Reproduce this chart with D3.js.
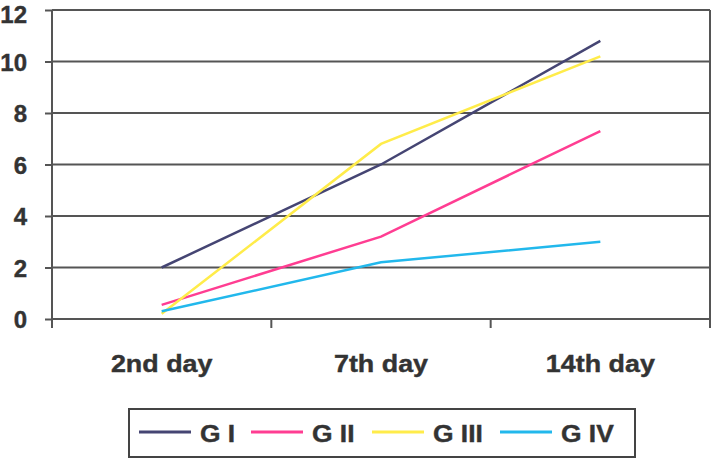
<!DOCTYPE html>
<html>
<head>
<meta charset="utf-8">
<script src="https://cdn.jsdelivr.net/npm/d3@7"></script>
<style>
  body { margin: 0; background: #fff; }
  text { font-family: "Liberation Sans", Arial, sans-serif; font-weight: bold; fill: #333; stroke: #333; stroke-width: 0.4px; }
</style>
</head>
<body>
<div id="chart"></div>
<script>
// chart data
var days = ["2nd day", "7th day", "14th day"];
var groups = ["G I", "G II", "G III", "G IV"];
var gI = [2.0, 6.0, 10.8];
var gII = [0.55, 3.2, 7.3];
var gIII = [0.2, 6.8, 10.2];
var gIV = [0.3, 2.2, 3.0];
var yTicks = [0, 2, 4, 6, 8, 10, 12];
var colors = ["#454573", "#ff3d92", "#ffec4a", "#22b8ec"];

var series = [gI, gII, gIII, gIV];

var svgWidth = 717;
var svgHeight = 459;
var margin = { top: 10, right: 7, bottom: 140, left: 52 };
var chartWidth = svgWidth - margin.left - margin.right;
var chartHeight = svgHeight - margin.top - margin.bottom;

var svg = d3.select("#chart")
  .append("svg")
  .attr("width", svgWidth)
  .attr("height", svgHeight);

var chart = svg.append("g")
  .attr("transform", "translate(" + margin.left + "," + margin.top + ")");

var x = d3.scaleBand()
  .range([0, chartWidth])
  .domain(days);

var y = d3.scaleLinear()
  .range([chartHeight, 0])
  .domain([0, 12]);

// gridlines
chart.selectAll(".grid")
  .data(yTicks)
  .enter()
  .append("line")
  .attr("x1", 0)
  .attr("x2", chartWidth)
  .attr("y1", function(d) { return y(d); })
  .attr("y2", function(d) { return y(d); })
  .attr("stroke", "#555")
  .attr("stroke-width", 2);

// right border
chart.append("line")
  .attr("x1", chartWidth).attr("x2", chartWidth)
  .attr("y1", 0).attr("y2", chartHeight + 9)
  .attr("stroke", "#555").attr("stroke-width", 2);

// y axis
var yAxis = chart.append("g")
  .call(d3.axisLeft(y).tickValues(yTicks).tickSize(7).tickPadding(18));
yAxis.select(".domain").remove();
yAxis.selectAll(".tick line").attr("stroke", "#555").attr("stroke-width", 2);
yAxis.selectAll(".tick text")
  .style("font-size", "24px")
  .attr("fill", "#333")
  .attr("dy", function(d) { return d === 12 ? "0.5em" : "0.36em"; });
chart.append("line")
  .attr("x1", 0).attr("x2", 0)
  .attr("y1", 0).attr("y2", chartHeight + 9)
  .attr("stroke", "#555").attr("stroke-width", 2);

// x axis ticks at band boundaries
chart.selectAll(".xtick")
  .data(days.slice(1))
  .enter()
  .append("line")
  .attr("x1", function(d) { return x(d); })
  .attr("x2", function(d) { return x(d); })
  .attr("y1", chartHeight)
  .attr("y2", chartHeight + 9)
  .attr("stroke", "#555")
  .attr("stroke-width", 2);

chart.selectAll(".xlabel")
  .data(days)
  .enter()
  .append("text")
  .attr("transform", function(d) {
    return "translate(" + (x(d) + x.bandwidth() / 2) + "," + (chartHeight + 53) + ") scale(1.12,1)";
  })
  .attr("text-anchor", "middle")
  .style("font-size", "24px")
  .text(function(d) { return d; });

// lines
var line = d3.line()
  .x(function(d, i) { return x(days[i]) + x.bandwidth() / 2; })
  .y(function(d) { return y(d); });

chart.selectAll(".series")
  .data(series)
  .enter()
  .append("path")
  .attr("d", line)
  .attr("fill", "none")
  .attr("stroke", function(d, i) { return colors[i]; })
  .attr("stroke-width", 2.5);

// legend
var legend = svg.append("g");
legend.append("rect")
  .attr("x", 129)
  .attr("y", 409)
  .attr("width", 506)
  .attr("height", 48)
  .attr("fill", "#fff")
  .attr("stroke", "#444")
  .attr("stroke-width", 2);

var legendX = [139, 251, 372, 500];
var item = legend.selectAll(".item")
  .data(groups)
  .enter()
  .append("g")
  .attr("transform", function(d, i) { return "translate(" + legendX[i] + ",432)"; });

item.append("line")
  .attr("x1", 0).attr("x2", 52)
  .attr("y1", 0).attr("y2", 0)
  .attr("stroke", function(d, i) { return colors[i]; })
  .attr("stroke-width", 3);

item.append("text")
  .attr("transform", "translate(61,10) scale(1.1,1)")
  .style("font-size", "24px")
  .text(function(d) { return d; });
</script>
</body>
</html>
